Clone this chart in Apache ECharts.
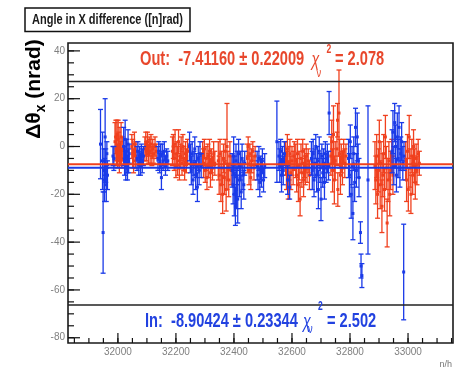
<!DOCTYPE html>
<html><head><meta charset="utf-8">
<script src="https://cdn.jsdelivr.net/npm/echarts@6/dist/echarts.min.js"></script>
<style>html,body{margin:0;padding:0;background:#fff}#c{width:459px;height:370px}</style>
</head><body><div id="c"></div>
<script>
// ---- data: [run, value, error] ----
const outData = [
 [31990,2,8],[31993,4,7],[31995,-2,6],[31997,5,6],[31999,-4,5],[32001,3,8],[32003,0,6],[32005,-6,5],[32007,1,7],[32009,-3,5],[32011,4,6],[32013,-5,4],[32015,-1,5],
 [32048,0,5],[32051,-3,6],[32054,-6,5],[32057,1,5],[32060,-4,5],[32062,-2,4],
 [32093,-1,5],[32096,1,5],[32099,-2,4],[32102,2,4],[32105,-3,4],[32108,0,4],[32111,-2,5],[32114,1,4],[32117,-4,4],[32120,-1,4],[32124,-3,4],[32128,0,4],[32132,-2,3],
 [32188,-2,6],[32191,0,5],[32194,-5,5],[32197,1,6],[32200,-8,5],[32203,-3,5],[32206,-6,6],[32209,2,5],[32212,-9,5],[32215,-4,5],[32218,-1,5],[32221,-7,5],[32224,0,5],[32227,-5,5],[32230,-10,4],[32233,-3,5],[32236,-6,5],[32240,-2,5],
 [32292,-3,5],[32295,-7,6],[32298,-1,4],[32301,-10,5],[32304,-5,5],[32307,-13,5],[32310,-4,5],[32313,-8,5],[32316,-2,5],[32319,-11,6],[32322,-6,5],[32326,-9,5],[32330,-3,5],[32334,-7,5],
 [32346,-6,8],[32349,-12,8],[32352,-3,6],[32355,-16,7],[32358,-9,7],[32361,-20,8],[32364,-5,6],[32367,-13,7],[32370,-2,5],[32373,-18,9],[32376,0,18],[32379,-8,6],[32382,-14,7],[32386,-4,6],[32390,-10,6],
 [32446,-5,6],[32449,0,4],[32452,-10,6],[32455,-3,4],[32458,-13,5],[32461,-6,5],[32465,-2,4],[32469,-9,5],[32473,-4,4],
 [32578,-5,7],[32581,-10,8],[32584,-1,6],[32587,-14,8],[32590,-7,7],[32593,-3,6],[32596,-11,7],[32600,-6,6],[32604,-9,7],[32608,-4,6],
 [32613,-6,7],[32616,-12,7],[32619,-3,6],[32622,-16,7],[32625,-8,6],[32628,-22,7],[32631,-5,6],[32634,-11,6],[32637,-2,5],[32640,-14,7],[32643,-7,6],[32646,-10,6],[32649,-4,5],[32652,-9,6],[32656,-6,5],[32660,-12,6],
 [32734,-4,8],[32737,2,9],[32740,-10,9],[32743,5,12],[32746,-14,10],[32749,-6,8],[32755,-1,7],[32757,11,7],[32758,-18,7],[32762,14,18],[32764,-3,6],[32767,-12,8],[32770,-5,6],[32774,-9,7],[32778,-2,5],[32782,-7,6],[32786,-4,5],
 [32886,-8,10],[32889,-14,10],[32892,-4,9],[32895,-20,10],[32898,-10,9],[32901,2,9],[32904,-16,10],[32907,-7,9],[32910,-25,11],[32913,-12,9],[32916,-3,8],[32919,-18,9],[32922,4,9],[32925,-9,9],[32928,-32,10],[32931,-14,9],[32934,-6,8],[32937,-20,9],[32940,-10,8],[32944,-4,7],[32948,-12,8],
 [32992,-6,8],[32995,-14,9],[32998,-2,7],[33001,-18,9],[33004,4,9],[33007,-9,8],[33010,-20,8],[33013,-4,7],[33016,-12,8],[33019,0,7],[33022,-8,7],[33025,-15,7],[33028,-5,6],[33031,-10,6],[33035,-3,6],[33039,-7,5]
];
const inData = [
 [31940,1,14.5],[31947,-6,12],[31949,-36,17],[31952,-10,9],[31954,-14,9],[31956,4,16],[31958,-8,7],[31960,-16,7],[31962,-3,5],[31964,-12,6],
 [31983,-4,4],[31986,-5,5],
 [32020,0,8],[32023,-6,6],[32025,3,8],[32027,-8,6],[32029,-2,5],[32031,-4,7],[32033,-9,5],[32035,1,6],[32037,-6,5],[32039,-3,4],
 [32066,-5,5],[32069,-2,4],[32072,-7,5],[32075,-4,4],[32078,-8,4],[32081,-3,4],[32084,-6,5],[32088,-4,4],
 [32138,-5,5],[32141,-2,4],[32144,-7,4],[32147,-4,5],[32150,-13,5],[32153,-3,4],[32156,-6,4],[32160,-2,4],[32164,-8,4],[32168,-4,3],[32172,-6,4],
 [32247,0,6],[32250,-5,6],[32253,-10,6],[32256,-3,5],[32259,-14,6],[32262,-7,5],[32265,-1,5],[32268,-12,6],[32271,-8,5],[32274,-17,6],[32277,-5,5],[32280,-10,6],[32283,-3,5],[32287,-8,5],
 [32394,-10,7],[32397,-16,8],[32399,-4,8],[32401,-20,9],[32403,-12,8],[32405,-25,8],[32407,-6,7],[32409,-18,8],[32411,-9,7],[32413,-22,10],[32416,-3,6],[32419,-14,7],[32422,-8,6],[32425,-19,7],[32428,-5,6],[32431,-12,6],[32434,-16,6],[32437,-7,5],
 [32480,-8,6],[32483,-12,6],[32486,-5,5],[32489,-15,6],[32492,-9,5],[32495,-11,6],[32498,-6,5],[32502,-14,5],[32506,-8,5],
 [32548,2,17],
 [32555,-4,6],[32558,-8,7],[32561,-2,5],[32564,-12,7],[32567,-6,6],[32570,-10,6],[32574,-3,5],
 [32585,-14,6],[32592,-17,5],
 [32667,-5,7],[32670,-10,8],[32673,-3,6],[32676,-14,7],[32679,-7,6],[32682,0,5],[32685,-12,7],[32688,-6,6],[32691,-18,8],[32694,-2,6],[32697,-9,6],[32700,-22,9],[32703,-4,5],[32706,-11,6],[32709,-7,6],[32712,-15,7],[32715,-3,5],[32718,-9,6],[32722,-5,6],[32726,-8,6],
 [32728,14,9],
 [32795,-5,8],[32798,-12,9],[32801,2,7],[32804,-20,10],[32807,-8,8],[32810,-28,11],[32813,-3,7],[32816,-15,8],[32819,8,8],[32822,-10,7],[32825,4,10],[32828,-6,7],[32831,-13,8],
 [32836,-36,4.5],[32838,-50,5],[32841,-54,5],
 [32862,-14,31],
 [32945,-2,9],[32948,6,9],[32951,-8,8],[32954,10,8],[32957,0,9],[32960,-12,7],[32963,4,10],[32966,-5,8],[32969,8,9],[32972,-9,8],[32975,-3,7],[32978,2,8],[32982,-7,7],[32986,-4,6],
 [32985,-52.5,20]
];
const fitOut = -7.41160, fitOutErr = 0.22009, chiOut = 2.078;
const fitIn = -8.90424, fitInErr = 0.23344, chiIn = 2.502;
const xMajor = [32000, 32200, 32400, 32600, 32800, 33000];
const xMinor = [31850,31900,31950,32000,32050,32100,32150,32200,32250,32300,32350,32400,32450,32500,32550,32600,32650,32700,32750,32800,32850,32900,32950,33000,33050,33100,33150];
const yMajor = [-80, -60, -40, -20, 0, 20, 40];
const yMinor = [-80,-75,-70,-65,-60,-55,-50,-45,-40,-35,-30,-25,-20,-15,-10,-5,0,5,10,15,20,25,30,35,40];
const XMIN = 31828, XMAX = 33155, YMIN = -82.2, YMAX = 43.3;

const RED = '#f0401e', BLUE = '#1a3ae8';
const labFont = "'Liberation Sans',Arial,sans-serif";

function errSeries(data, color) {
  return {
    type: 'custom', data: data, clip: true,
    renderItem: function (params, api) {
      const x = api.value(0), y = api.value(1), e = api.value(2);
      const p = api.coord([x, y]), t = api.coord([x, y + e]), b = api.coord([x, y - e]);
      const st = { stroke: color, lineWidth: 1.3 };
      return { type: 'group', children: [
        { type: 'line', shape: { x1: p[0], y1: t[1], x2: p[0], y2: b[1] }, style: st },
        { type: 'line', shape: { x1: p[0] - 2.5, y1: t[1], x2: p[0] + 2.5, y2: t[1] }, style: st },
        { type: 'line', shape: { x1: p[0] - 2.5, y1: b[1], x2: p[0] + 2.5, y2: b[1] }, style: st },
        { type: 'rect', shape: { x: p[0] - 1.5, y: p[1] - 1.5, width: 3, height: 3 }, style: { fill: color } }
      ]};
    }
  };
}
function fitLine(v, color) {
  return { type: 'line', data: [[XMIN, v], [XMAX, v]], symbol: 'none', z: 5,
    lineStyle: { color: color, width: 2 }, silent: true };
}
// tick marks drawn through the axis scales: [value, kind] kind 0 x-major, 1 x-minor, 2 y-major, 3 y-minor
const tickData = [].concat(
  xMajor.map(v => [v, 0]), xMinor.map(v => [v, 1]),
  yMajor.map(v => [v, 2]), yMinor.map(v => [v, 3]));
const tickSeries = {
  type: 'custom', data: tickData, clip: false, silent: true, z: 6,
  renderItem: function (params, api) {
    const v = api.value(0), k = api.value(1);
    const st = { stroke: '#111', lineWidth: 1.2 };
    if (k < 2) {
      const p = api.coord([v, YMIN]);
      const L = k === 0 ? 10 : 5;
      return { type: 'line', shape: { x1: p[0], y1: p[1], x2: p[0], y2: p[1] - L }, style: st };
    }
    const p = api.coord([XMIN, v]);
    const L = k === 2 ? 12 : 6;
    return { type: 'line', shape: { x1: p[0], y1: p[1], x2: p[0] + L, y2: p[1] }, style: st };
  }
};
// stat-box borders, positioned relative to the plot frame
const boxSeries = {
  type: 'custom', data: [[XMIN, YMIN]], clip: false, silent: true, z: 7,
  renderItem: function (params) {
    const cs = params.coordSys;
    const st = { stroke: '#222', lineWidth: 1.5 };
    const yTop = cs.y + 38.5, yBot = cs.y + cs.height - 38;
    return { type: 'group', children: [
      { type: 'line', shape: { x1: cs.x, y1: yTop, x2: cs.x + cs.width, y2: yTop }, style: st },
      { type: 'line', shape: { x1: cs.x, y1: yBot, x2: cs.x + cs.width, y2: yBot }, style: st }
    ]};
  }
};

function statText(x0, yc, color, head, chi, chiX, supX, supY, subX, subY, eqX) {
  const sx = 0.714;
  const f = 'bold 20.5px "Liberation Sans", Arial, sans-serif';
  return [
    { type: 'text', x: x0, y: yc, scaleX: sx, z: 10, style: { text: head, font: f, fill: color, align: 'left', verticalAlign: 'middle' } },
    { type: 'text', x: chiX, y: yc + 1, scaleX: sx, z: 10, style: { text: 'χ', font: 'italic 20px "Liberation Sans", sans-serif', fill: color, align: 'left', verticalAlign: 'middle' } },
    { type: 'text', x: supX, y: supY, scaleX: sx, z: 10, style: { text: '2', font: 'bold 12px "Liberation Sans", sans-serif', fill: color, align: 'left', verticalAlign: 'middle' } },
    { type: 'text', x: subX, y: subY, scaleX: sx, z: 10, style: { text: 'ν', font: '13px "Liberation Sans", sans-serif', fill: color, align: 'left', verticalAlign: 'middle' } },
    { type: 'text', x: eqX, y: yc, scaleX: sx, z: 10, style: { text: '= ' + chi.toFixed(3), font: f, fill: color, align: 'left', verticalAlign: 'middle' } }
  ];
}

const chart = echarts.init(document.getElementById('c'), null, { renderer: 'canvas' });
const graphics = [
  { type: 'rect', shape: { x: 25, y: 8, width: 165, height: 23.5 }, style: { fill: '#fff', stroke: '#111', lineWidth: 1.5 }, z: 10 },
  { type: 'text', x: 107.5, y: 20, scaleX: 0.71, z: 11, style: { text: 'Angle in X difference ([n]rad)', font: 'bold 15.5px "Liberation Sans", Arial, sans-serif', fill: '#1a1a1a', align: 'center', verticalAlign: 'middle' } },
  { type: 'text', x: 34, y: 89, rotation: Math.PI / 2, z: 10, style: {
      text: '{a|Δθ}{b|x}{a| (nrad)}', align: 'center', verticalAlign: 'middle',
      rich: { a: { font: 'bold 21px "Liberation Sans", Arial, sans-serif', fill: '#000', verticalAlign: 'bottom' },
              b: { font: 'bold 14px "Liberation Sans", Arial, sans-serif', fill: '#000', verticalAlign: 'bottom', padding: [0, 0, -4, 0] } } } },
  { type: 'text', x: 452, y: 365, z: 10, style: { text: 'n/h', font: '9px ' + labFont, fill: '#777', align: 'right', verticalAlign: 'middle' } }
].concat(
  statText(140, 59.2, '#e8472c', 'Out:  ' + fitOut.toFixed(5) + ' ± ' + fitOutErr.toFixed(5), chiOut, 311.5, 326.5, 50, 316.5, 73, 335),
  statText(145, 321.5, '#2242e0', 'In:  ' + fitIn.toFixed(5) + ' ± ' + fitInErr.toFixed(5), chiIn, 303, 318, 306.5, 308, 329.5, 327)
);

chart.setOption({
  animation: false,
  backgroundColor: '#fff',
  grid: { left: 68, right: 6, top: 43, bottom: 27, show: true, borderColor: '#1a1a1a', borderWidth: 1.6 },
  xAxis: { type: 'value', min: XMIN, max: XMAX, position: 'bottom',
      axisLine: { show: false, onZero: false },
      axisTick: { show: false },
      axisLabel: { customValues: xMajor, color: '#808080', fontSize: 10, fontFamily: labFont, margin: 4,
                   formatter: function (v) { return String(v); } },
      splitLine: { show: false } },
  yAxis: { type: 'value', min: YMIN, max: YMAX, position: 'left',
      axisLine: { show: false, onZero: false },
      axisTick: { show: false },
      axisLabel: { customValues: yMajor, color: '#808080', fontSize: 10, fontFamily: labFont, margin: 3,
                   formatter: function (v) { return String(v); } },
      splitLine: { show: false } },
  series: [
    errSeries(outData, RED),
    errSeries(inData, BLUE),
    fitLine(fitOut, RED),
    fitLine(fitIn, BLUE),
    tickSeries,
    boxSeries
  ],
  graphic: graphics
});

// Remove any stray full-width rule drawn at value 0 (not present in the reference).
function dropZeroRule() {
  const zeroY = chart.convertToPixel({ gridIndex: 0 }, [XMIN, 0])[1];
  let changed = false;
  chart.getZr().storage.getDisplayList(true).forEach(function (el) {
    if (!el.getBoundingRect) return;
    const r = el.getBoundingRect().clone();
    if (el.transform) r.applyTransform(el.transform);
    const stroke = el.style && el.style.stroke;
    if (r.width > 300 && r.height < 4 && Math.abs(r.y + r.height / 2 - zeroY) < 2.5 &&
        stroke !== RED && stroke !== BLUE) {
      el.ignore = true; changed = true;
    }
  });
  if (changed) chart.getZr().refreshImmediately();
}
dropZeroRule();
chart.on('finished', dropZeroRule);
</script></body></html>
